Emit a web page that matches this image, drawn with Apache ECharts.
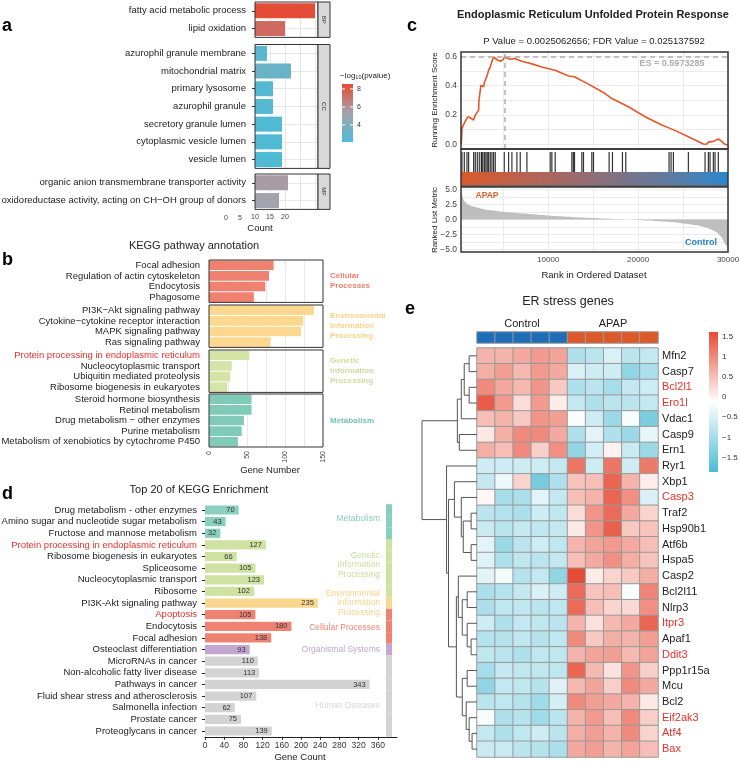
<!DOCTYPE html>
<html>
<head>
<meta charset="utf-8">
<script src="https://cdn.jsdelivr.net/npm/echarts@6/dist/echarts.min.js"></script>
<style>
html, body { margin: 0; padding: 0; background: #fff; }
#main { width: 740px; height: 762px; }
</style>
</head>
<body>
<div id="main"></div>
<script>
// ---- a: GO enrichment ----
const goBpTerms = ['fatty acid metabolic process', 'lipid oxidation'];
const goBpCounts = [30, 20];
const goBpLogP = [8.5, 7.4];
const goCcTerms = ['azurophil granule membrane', 'mitochondrial matrix', 'primary lysosome', 'azurophil granule', 'secretory granule lumen', 'cytoplasmic vesicle lumen', 'vesicle lumen'];
const goCcCounts = [14, 22, 16, 16, 19, 19, 19];
const goCcLogP = [2.6, 3.2, 2.4, 2.4, 2.25, 2.2, 2.15];
const goMfTerms = ['organic anion transmembrane transporter activity', 'oxidoreductase activity, acting on CH\u2212OH group of donors'];
const goMfCounts = [21, 18];
const goMfLogP = [5.6, 5.3];
const aLegendTicks = [8, 6, 4];

// ---- b: KEGG annotation ----
const bCellTerms = ['Focal adhesion', 'Regulation of actin cytoskeleton', 'Endocytosis', 'Phagosome'];
const bCellCounts = [85, 79, 74, 59];
const bEnvTerms = ['PI3K\u2212Akt signaling pathway', 'Cytokine\u2212cytokine receptor interaction', 'MAPK signaling pathway', 'Ras signaling pathway'];
const bEnvCounts = [138, 124, 121, 81];
const bGenTerms = ['Protein processing in endoplasmic reticulum', 'Nucleocytoplasmic transport', 'Ubiquitin mediated proteolysis', 'Ribosome biogenesis in eukaryotes'];
const bGenCounts = [53, 30, 28, 24];
const bMetTerms = ['Steroid hormone biosynthesis', 'Retinol metabolism', 'Drug metabolism \u2212 other enzymes', 'Purine metabolism', 'Metabolism of xenobiotics by cytochrome P450'];
const bMetCounts = [56, 56, 46, 43, 38];

// ---- c: GSEA ----
const esRank = [333, 407, 560, 704, 900, 1074, 1333, 1704, 1889, 2111, 2259, 2300, 2518, 2815, 2900, 3074, 3220, 3370, 3520, 3667, 3800, 3926, 4407, 4700, 5037, 5148, 5500, 5778, 6000, 6260, 7074, 7600, 8185, 9296, 10400, 10777, 12259, 12900, 13000, 14481, 16333, 17074, 18926, 20778, 22630, 23900, 24111, 25593, 26333, 27259, 27450, 27600, 27815, 28000, 28370, 28550, 28926, 29300, 29667, 30000];
const esValue = [0, 0.109, 0.10, 0.149, 0.145, 0.188, 0.181, 0.165, 0.199, 0.21, 0.233, 0.30, 0.403, 0.392, 0.42, 0.448, 0.47, 0.505, 0.52, 0.55, 0.575, 0.593, 0.573, 0.566, 0.58, 0.597, 0.585, 0.58, 0.59, 0.584, 0.566, 0.557, 0.548, 0.527, 0.51, 0.505, 0.466, 0.46, 0.455, 0.41, 0.346, 0.312, 0.256, 0.188, 0.131, 0.10, 0.097, 0.052, 0.029, 0.002, 0.012, 0.0, 0.015, 0.005, 0.02, 0.01, 0.036, 0.02, 0.0, -0.005];
const esMax = 0.5973285;
const esMaxRank = 5148;
const hitRanks = [407, 667, 963, 1148, 1704, 1889, 2111, 2333, 2556, 2630, 2741, 2926, 3074, 3222, 3370, 3556, 3741, 3926, 4111, 5111, 5593, 5963, 6519, 6889, 7630, 10222, 10407, 10778, 12630, 12800, 12926, 13741, 13926, 14852, 15037, 16777, 17148, 18259, 18630, 23444, 23667, 23926, 25593, 27444, 27815, 28000, 28370, 28556, 28926];
const metricRank = [333, 593, 963, 1704, 2815, 4296, 6148, 8000, 9852, 11704, 13556, 15407, 17259, 19111, 20963, 22815, 24667, 26519, 27630, 28741, 29296, 29667, 30000];
const metricValue = [4.8, 3.27, 2.59, 2.14, 1.69, 1.41, 1.12, 0.9, 0.67, 0.5, 0.33, 0.22, 0.1, 0, -0.17, -0.34, -0.57, -0.96, -1.36, -2.1, -2.94, -4.07, -4.6];

// ---- d: Top 20 KEGG ----
const dTerms = ['Drug metabolism - other enzymes', 'Amino sugar and nucleotide sugar metabolism', 'Fructose and mannose metabolism', 'Protein processing in endoplasmic reticulum', 'Ribosome biogenesis in eukaryotes', 'Spliceosome', 'Nucleocytoplasmic transport', 'Ribosome', 'PI3K-Akt signaling pathway', 'Apoptosis', 'Endocytosis', 'Focal adhesion', 'Osteoclast differentiation', 'MicroRNAs in cancer', 'Non-alcoholic fatty liver disease', 'Pathways in cancer', 'Fluid shear stress and atherosclerosis', 'Salmonella infection', 'Prostate cancer', 'Proteoglycans in cancer'];
const dCounts = [70, 43, 32, 127, 66, 105, 123, 102, 235, 105, 180, 138, 93, 110, 113, 343, 107, 62, 75, 139];
const dClasses = ['Metabolism', 'Metabolism', 'Metabolism', 'Genetic', 'Genetic', 'Genetic', 'Genetic', 'Genetic', 'Environmental', 'Cellular', 'Cellular', 'Cellular', 'Organismal', 'Human', 'Human', 'Human', 'Human', 'Human', 'Human', 'Human'];
const dRedTerms = ['Protein processing in endoplasmic reticulum', 'Apoptosis'];
const dTicks = [0, 40, 80, 120, 160, 200, 240, 280, 320, 360];

// ---- e: ER stress heatmap ----
const eSamples = ['C1', 'C2', 'C3', 'C4', 'C5', 'A1', 'A2', 'A3', 'A4', 'A5'];
const eGroups = [0, 0, 0, 0, 0, 1, 1, 1, 1, 1];
const eGenes = ['Mfn2', 'Casp7', 'Bcl2l1', 'Ero1l', 'Vdac1', 'Casp9', 'Ern1', 'Ryr1', 'Xbp1', 'Casp3', 'Traf2', 'Hsp90b1', 'Atf6b', 'Hspa5', 'Casp2', 'Bcl2l11', 'Nlrp3', 'Itpr3', 'Apaf1', 'Ddit3', 'Ppp1r15a', 'Mcu', 'Bcl2', 'Eif2ak3', 'Atf4', 'Bax'];
const eRedGenes = ['Bcl2l1', 'Ero1l', 'Casp3', 'Itpr3', 'Ddit3', 'Eif2ak3', 'Atf4', 'Bax'];
const eValues = [
    [0.6, 0.6, 0.7, 0.85, 0.75, -0.9, -0.8, -0.5, -0.8, -0.7],
    [0.65, 0.8, 0.55, 0.85, 0.7, -0.5, -0.6, -0.6, -1.2, -0.95],
    [1.0, 0.7, 0.55, 0.9, 0.4, -0.9, -0.8, -1.0, -0.7, -0.6],
    [1.45, 0.85, 0.2, 0.85, 0.05, -0.7, -0.9, -0.8, -0.8, -0.7],
    [0.5, 0.6, 0.4, 0.9, 0.8, -0.15, -0.6, -1.1, -0.2, -1.4],
    [0.1, 0.65, 1.0, 1.0, 0.7, -0.9, -0.4, -0.9, -1.1, -0.35],
    [0.65, 0.5, 1.0, 0.35, 0.95, -1.2, -0.55, 0.0, -0.65, -1.1],
    [-0.6, -0.6, -0.6, -0.6, -0.7, 1.2, -0.6, 1.2, -0.6, 1.15],
    [-0.7, -0.3, 0.3, -1.45, -0.9, 0.45, 0.5, 1.35, 0.6, 0.05],
    [-0.05, -1.0, -0.95, -0.4, -0.7, 0.5, 0.6, 1.35, 0.95, -0.5],
    [-0.8, -0.85, -0.95, -0.6, -0.75, 0.2, 0.9, 1.3, 0.7, 0.3],
    [-0.65, -0.8, -0.7, -0.75, -0.7, 0.1, 0.9, 1.4, 0.4, 0.45],
    [-0.4, -1.1, -0.8, -0.6, -0.75, 0.6, 0.75, 0.85, 0.7, 0.5],
    [-0.45, -0.9, -0.75, -0.8, -0.7, 0.5, 0.7, 0.95, 0.65, 0.45],
    [-0.4, -0.25, -0.85, -0.7, -1.2, 1.6, 0.05, 0.3, 0.4, 0.65],
    [-0.95, -0.85, -0.7, -0.5, -0.6, 1.3, 0.45, 0.5, -0.2, 1.05],
    [-0.95, -0.75, -0.75, -0.8, -0.75, 1.3, 0.5, 0.3, 0.25, 0.95],
    [-0.6, -0.9, -0.7, -0.75, -0.8, 0.6, 0.15, 0.55, 0.7, 1.35],
    [-0.85, -0.85, -0.75, -0.85, -0.75, 1.0, 0.4, 0.65, 0.6, 0.8],
    [-0.75, -0.8, -0.9, -0.75, -0.75, 0.6, 0.75, 0.8, 0.55, 0.75],
    [-1.0, -0.7, -0.75, -0.75, -0.75, 1.35, 0.55, 0.15, 0.9, 0.35],
    [-1.2, -0.7, -0.75, -0.85, -0.45, 0.55, 0.75, 0.35, 1.0, 0.7],
    [-0.8, -0.75, -0.85, -1.05, -0.55, 1.0, 0.8, 0.7, 0.6, 0.1],
    [-0.2, -0.9, -0.85, -1.05, -0.8, 0.6, 0.85, 0.5, 1.0, 0.35],
    [-0.7, -0.9, -0.75, -0.6, -0.8, 0.65, 0.8, 0.6, 1.0, 0.3],
    [-0.65, -0.65, -0.8, -0.85, -0.95, 0.7, 0.8, 0.6, 0.75, 0.5]
];
// dendrogram merges: [left node, right node, height]; leaves are rows 0..25, merges numbered from 26
const eMerges = [
    [0, 1, 0.8], [2, 3, 0.8], [26, 27, 1.3], [28, 4, 1.6], [5, 6, 1.8], [29, 30, 2.0],
    [10, 11, 0.6], [12, 13, 0.6], [32, 33, 1.4], [9, 34, 1.6], [8, 35, 2.3],
    [15, 16, 1.0], [18, 19, 0.6], [17, 38, 1.0], [37, 39, 1.5], [14, 40, 1.9],
    [20, 21, 1.0], [24, 25, 0.5], [23, 43, 0.8], [22, 44, 1.1], [42, 45, 1.5], [41, 46, 2.1],
    [36, 47, 2.9], [7, 48, 3.1], [31, 49, 5.6]
];
const eLegendTicks = [1.5, 1, 0.5, 0, -0.5, -1, -1.5];

const FONT = '"Liberation Sans", Arial, Helvetica, sans-serif';
const MINUS = '\u2212';

const grid = [], xAxis = [], yAxis = [], series = [], graphic = [];

function addGrid(left, top, width, height) {
    grid.push({ left: left, top: top, width: width, height: height, containLabel: false, outerBoundsMode: 'none' });
    return grid.length - 1;
}
function text(x, y, str, o) {
    o = o || {};
    graphic.push({
        type: 'text', x: x, y: y, rotation: o.rotation || 0, silent: true, z: 100,
        style: {
            text: str, fill: o.color || '#222', fontSize: o.size || 9, fontWeight: o.weight || 'normal',
            fontFamily: FONT, align: o.align || 'center', verticalAlign: o.valign || 'middle',
            lineHeight: o.lineHeight, rich: o.rich
        }
    });
}
function box(x, y, w, h, o) {
    o = o || {};
    graphic.push({
        type: 'rect', shape: { x: x, y: y, width: w, height: h }, silent: true, z: o.z || 100,
        style: { fill: o.fill || 'none', stroke: o.stroke || '#333', lineWidth: o.lineWidth || 1 }
    });
}
function hiddenAxis(gi, extra) {
    return Object.assign({ gridIndex: gi, axisLine: { show: false }, axisTick: { show: false }, axisLabel: { show: false }, splitLine: { show: false } }, extra);
}

// ================= a =================
const A_ROW = 17.7;
const aFacets = [
    { terms: goBpTerms, counts: goBpCounts, logp: goBpLogP, top: 2, strip: 'BP' },
    { terms: goCcTerms, counts: goCcCounts, logp: goCcLogP, top: 44.5, strip: 'CC' },
    { terms: goMfTerms, counts: goMfCounts, logp: goMfLogP, top: 174, strip: 'MF' }
];
const aSeriesIdx = [];
aFacets.forEach(function (f, k) {
    const h = f.terms.length * A_ROW;
    const gi = addGrid(255, f.top, 63, h);
    const xi = xAxis.push({
        type: 'value', gridIndex: gi, min: 10, max: 31,
        axisLine: { show: false },
        axisTick: { show: false, customValues: [10, 15, 20, 25, 30] },
        splitLine: { show: true, lineStyle: { color: '#e6e6e6' } },
        axisLabel: { show: k === 2, customValues: [10, 15, 20], fontSize: 7, color: '#444', margin: 4, fontFamily: FONT }
    }) - 1;
    const yi = yAxis.push({
        type: 'category', gridIndex: gi, data: f.terms, inverse: true,
        axisLine: { show: false },
        axisTick: { show: true, length: 3, alignWithLabel: true, lineStyle: { color: '#333' } },
        axisLabel: { fontSize: 9.5, color: '#222', margin: 9, interval: 0, fontFamily: FONT },
        splitLine: { show: false }
    }) - 1;
    // horizontal grid lines through category centres
    yAxis.push(hiddenAxis(gi, {
        type: 'value', min: 0, max: f.terms.length,
        axisTick: { show: false, customValues: f.terms.map(function (t, i) { return i + 0.5; }) },
        splitLine: { show: true, lineStyle: { color: '#e6e6e6' } }
    }));
    aSeriesIdx.push(series.push({
        type: 'bar', xAxisIndex: xi, yAxisIndex: yi, barWidth: 15, z: 3, silent: true,
        encode: { x: 0, y: 1 },
        data: f.terms.map(function (t, i) { return [f.counts[i], t, f.logp[i]]; })
    }) - 1);
    box(255, f.top, 63, h);
    box(318, f.top, 12, h, { fill: '#d9d9d9' });
    text(324, f.top + h / 2, f.strip, { size: 6, color: '#333', rotation: -Math.PI / 2 });
});
text(226, 218, '0', { size: 7, color: '#444' });
text(240, 218, '5', { size: 7, color: '#444' });
text(260, 228, 'Count', { size: 9.5 });
// legend
text(340, 76, MINUS + 'log{sub|10}(pvalue)', { size: 8, align: 'left', rich: { sub: { fontSize: 5.5, fontFamily: FONT, fill: '#222', verticalAlign: 'bottom', padding: [3, 0, 0, 0] } } });
graphic.push({
    type: 'rect', shape: { x: 342, y: 84, width: 11, height: 58 }, silent: true, z: 100,
    style: {
        fill: new echarts.graphic.LinearGradient(0, 0, 0, 1, [
            { offset: 0, color: '#E64B35' }, { offset: 0.5, color: '#A3A3AC' }, { offset: 1, color: '#4DBBD5' }
        ])
    }
});
aLegendTicks.forEach(function (v) {
    const y = 84 + (8.55 - v) * 9;
    graphic.push({ type: 'line', shape: { x1: 342, y1: y, x2: 345, y2: y }, style: { stroke: '#fff', lineWidth: 1 }, z: 101, silent: true });
    graphic.push({ type: 'line', shape: { x1: 350, y1: y, x2: 353, y2: y }, style: { stroke: '#fff', lineWidth: 1 }, z: 101, silent: true });
    text(357, y, String(v), { size: 7, align: 'left', color: '#333' });
});

// ================= b =================
const B_ROW = 10.6;
const bFacets = [
    { terms: bCellTerms, counts: bCellCounts, top: 260, color: '#F0806F', label: 'Cellular\nProcesses', labelColor: '#F07E6E' },
    { terms: bEnvTerms, counts: bEnvCounts, top: 305, color: '#FBD78F', label: 'Environmental\nInformation\nProcessing', labelColor: '#F8D386' },
    { terms: bGenTerms, counts: bGenCounts, top: 350, color: '#D4E3A6', label: 'Genetic\nInformation\nProcessing', labelColor: '#CBDF9C' },
    { terms: bMetTerms, counts: bMetCounts, top: 394, color: '#80CBB8', label: 'Metabolism', labelColor: '#70C5B1' }
];
bFacets.forEach(function (f, k) {
    const h = f.terms.length * B_ROW;
    const last = k === bFacets.length - 1;
    const gi = addGrid(209, f.top, 114, h);
    const xi = xAxis.push({
        type: 'value', gridIndex: gi, min: 0, max: 150,
        axisLine: { show: false },
        axisTick: { show: false, customValues: [25, 50, 75, 100, 125] },
        splitLine: { show: true, lineStyle: { color: '#e8e8e8' } },
        axisLabel: { show: last, customValues: [0, 50, 100, 150], rotate: 90, fontSize: 7, color: '#444', margin: 4, fontFamily: FONT }
    }) - 1;
    const yi = yAxis.push({
        type: 'category', gridIndex: gi, data: f.terms, inverse: true,
        axisLine: { show: false }, axisTick: { show: false }, splitLine: { show: false },
        axisLabel: {
            fontSize: 9.5, margin: 9, interval: 0, fontFamily: FONT,
            color: function (v) { return v === 'Protein processing in endoplasmic reticulum' ? '#E8302A' : '#222'; }
        }
    }) - 1;
    series.push({
        type: 'bar', xAxisIndex: xi, yAxisIndex: yi, barWidth: 9.6, silent: true,
        itemStyle: { color: f.color }, data: f.counts
    });
    box(209, f.top, 114, h);
    text(330, f.top + h / 2, f.label, { size: 8, weight: 'bold', align: 'left', color: f.labelColor, lineHeight: 10 });
});
text(194, 246, 'KEGG pathway annotation', { size: 11 });
text(270, 470, 'Gene Number', { size: 9.5 });

// ================= c =================
const C_LEFT = 461, C_W = 267;
const cTop = addGrid(C_LEFT, 52, C_W, 97);
const cMid = addGrid(C_LEFT, 149, C_W, 37);
const cBot = addGrid(C_LEFT, 187, C_W, 65);
const rankMinor = [5000, 10000, 15000, 20000, 25000, 30000];
const cxTop = xAxis.push(hiddenAxis(cTop, { type: 'value', min: 300, max: 30000, axisTick: { show: false, customValues: rankMinor }, splitLine: { show: true, lineStyle: { color: '#ebebeb' } } })) - 1;
const cyTop = yAxis.push({
    type: 'value', gridIndex: cTop, min: -0.032, max: 0.629,
    axisLine: { show: false },
    axisTick: { show: false, customValues: [0, 0.1, 0.2, 0.3, 0.4, 0.5, 0.6] },
    splitLine: { show: true, lineStyle: { color: '#ebebeb' } },
    axisLabel: { customValues: [0, 0.2, 0.4, 0.6], fontSize: 8.5, color: '#444', margin: 4, fontFamily: FONT, formatter: function (v) { return v.toFixed(1); } }
}) - 1;
const cxMid = xAxis.push(hiddenAxis(cMid, { type: 'value', min: 300, max: 30000 })) - 1;
const cyMid = yAxis.push(hiddenAxis(cMid, { type: 'value', min: 0, max: 1 })) - 1;
const cxBot = xAxis.push({
    type: 'value', gridIndex: cBot, min: 300, max: 30000,
    axisLine: { show: false },
    axisTick: { show: false, customValues: rankMinor },
    splitLine: { show: true, lineStyle: { color: '#ebebeb' } },
    axisLabel: { customValues: [10000, 20000, 30000], fontSize: 8, color: '#444', margin: 4, fontFamily: FONT, formatter: function (v) { return String(v); } }
}) - 1;
const cyBot = yAxis.push({
    type: 'value', gridIndex: cBot, min: -5.4, max: 5.4,
    axisLine: { show: false },
    axisTick: { show: false, customValues: [-5, -3.75, -2.5, -1.25, 0, 1.25, 2.5, 3.75, 5] },
    splitLine: { show: true, lineStyle: { color: '#ebebeb' } },
    axisLabel: { customValues: [-5, -2.5, 0, 2.5, 5], fontSize: 8.5, color: '#444', margin: 4, fontFamily: FONT, formatter: function (v) { return v.toFixed(1).replace('-', MINUS); } }
}) - 1;
series.push({
    type: 'line', xAxisIndex: cxTop, yAxisIndex: cyTop, showSymbol: false, silent: true, z: 4,
    lineStyle: { color: '#E4572A', width: 1.6 },
    data: esRank.map(function (r, i) { return [r, esValue[i]]; }),
    markLine: {
        silent: true, symbol: 'none', label: { show: false },
        lineStyle: { color: '#b0b0b0', width: 1.5, type: [5, 4] },
        data: [{ yAxis: esMax }, { xAxis: esMaxRank }]
    }
});
series.push({
    type: 'scatter', xAxisIndex: cxMid, yAxisIndex: cyMid, silent: true,
    symbol: 'rect', symbolSize: [1.2, 20], itemStyle: { color: '#000' },
    data: hitRanks.map(function (r) { return [r, 0.649]; }),
    markArea: {
        silent: true,
        itemStyle: {
            color: new echarts.graphic.LinearGradient(0, 0, 1, 0, [
                { offset: 0, color: '#DA582B' }, { offset: 0.3, color: '#B0645A' },
                { offset: 0.55, color: '#86707F' }, { offset: 0.8, color: '#5A7CA4' }, { offset: 1, color: '#2A87CF' }
            ])
        },
        data: [[{ xAxis: 300, yAxis: 0.027 }, { xAxis: 30000, yAxis: 0.378 }]]
    }
});
series.push({
    type: 'line', xAxisIndex: cxBot, yAxisIndex: cyBot, showSymbol: false, silent: true, smooth: 0.2,
    lineStyle: { width: 0 }, areaStyle: { color: '#BEBEBE', opacity: 1 },
    data: metricRank.map(function (r, i) { return [r, metricValue[i]]; })
});
box(C_LEFT, 52, C_W, 97, { lineWidth: 1.5 });
box(C_LEFT, 149, C_W, 37, { lineWidth: 1.5 });
box(C_LEFT, 187, C_W, 65, { lineWidth: 1.5 });
text(593, 15, 'Endoplasmic Reticulum Unfolded Protein Response', { size: 11, weight: 'bold' });
text(594, 41, 'P Value = 0.0025062656; FDR Value = 0.025137592', { size: 9.5 });
text(672, 64, 'ES = 0.5973285', { size: 9, weight: 'bold', color: '#ababab' });
text(487, 196, 'APAP', { size: 8.5, weight: 'bold', color: '#E0602E' });
text(701, 243, 'Control', { size: 9, weight: 'bold', color: '#2A7FC7' });
text(435, 100, 'Running Enrichment Score', { size: 8, rotation: Math.PI / 2 });
text(435, 220, 'Ranked List Metric', { size: 8, rotation: Math.PI / 2 });
text(594, 275, 'Rank in Ordered Dataset', { size: 9.5 });

// ================= d =================
const dClassColor = {
    Metabolism: '#88CFBE', Genetic: '#CFE2A1', Environmental: '#F9D78E',
    Cellular: '#EF8373', Organismal: '#C3A6D1', Human: '#D3D3D3'
};
const D_TOP = 504.2, D_H = 232.6;
const dGrid = addGrid(205, D_TOP, 192, D_H);
const dx = xAxis.push({
    type: 'value', gridIndex: dGrid, min: 0, max: 400,
    axisLine: { show: true, lineStyle: { color: '#222', width: 1 } },
    axisTick: { show: true, length: 3, customValues: dTicks, lineStyle: { color: '#222' } },
    axisLabel: { customValues: dTicks, fontSize: 8.5, color: '#333', margin: 4, fontFamily: FONT },
    splitLine: { show: false }
}) - 1;
const dy = yAxis.push({
    type: 'category', gridIndex: dGrid, data: dTerms, inverse: true,
    axisLine: { show: false },
    axisTick: { show: true, length: 3, alignWithLabel: true, lineStyle: { color: '#222' } },
    axisLabel: {
        fontSize: 9.5, margin: 8, interval: 0, fontFamily: FONT,
        color: function (v) { return dRedTerms.indexOf(v) >= 0 ? '#E8302A' : '#222'; }
    }
}) - 1;
series.push({
    type: 'bar', xAxisIndex: dx, yAxisIndex: dy, barWidth: 9.2, silent: true,
    data: dCounts.map(function (v, i) { return { value: v, itemStyle: { color: dClassColor[dClasses[i]] } }; }),
    label: { show: true, position: 'insideRight', distance: 4, fontSize: 7.5, color: '#333', fontFamily: FONT }
});
const dStrip = addGrid(386, D_TOP, 6, D_H);
const dsx = xAxis.push(hiddenAxis(dStrip, { type: 'value', min: 0, max: 1 })) - 1;
const dsy = yAxis.push(hiddenAxis(dStrip, { type: 'category', data: dTerms, inverse: true })) - 1;
series.push({
    type: 'bar', xAxisIndex: dsx, yAxisIndex: dsy, barCategoryGap: 0, silent: true,
    data: dClasses.map(function (c) { return { value: 1, itemStyle: { color: dClassColor[c] } }; })
});
text(199, 490, 'Top 20 of KEGG Enrichment', { size: 11 });
text(300, 757, 'Gene Count', { size: 9.5 });
text(380, 519, 'Metabolism', { size: 8.5, align: 'right', color: dClassColor.Metabolism });
text(380, 565, 'Genetic\nInformation\nProcessing', { size: 8.5, align: 'right', color: '#C9DE98', lineHeight: 9.4 });
text(380, 603, 'Environmental\nInformation\nProcessing', { size: 8.5, align: 'right', color: '#F8D486', lineHeight: 9.4 });
text(380, 628, 'Cellular Processes', { size: 8.5, align: 'right', color: dClassColor.Cellular });
text(380, 650, 'Organismal Systems', { size: 8.5, align: 'right', color: dClassColor.Organismal });
text(380, 706, 'Human Diseases', { size: 8.5, align: 'right', color: '#D6D6D6' });

// ================= e =================
const E_LEFT = 477, E_W = 181, E_TOP = 348, E_H = 409;
const eAnno = addGrid(E_LEFT, 332, E_W, 11);
const eax = xAxis.push(hiddenAxis(eAnno, { type: 'category', data: eSamples })) - 1;
const eay = yAxis.push(hiddenAxis(eAnno, { type: 'category', data: ['group'] })) - 1;
const eAnnoSeries = series.push({
    type: 'heatmap', xAxisIndex: eax, yAxisIndex: eay, silent: true,
    itemStyle: { borderColor: '#9a9a9a', borderWidth: 1 },
    data: eGroups.map(function (g, i) { return [i, 0, g]; })
}) - 1;
const eHeat = addGrid(E_LEFT, E_TOP, E_W, E_H);
const ehx = xAxis.push(hiddenAxis(eHeat, { type: 'category', data: eSamples })) - 1;
const ehy = yAxis.push({
    type: 'category', gridIndex: eHeat, data: eGenes, inverse: true, position: 'right',
    axisLine: { show: false }, axisTick: { show: false }, splitLine: { show: false },
    axisLabel: {
        fontSize: 11, margin: 4, interval: 0, fontFamily: FONT, align: 'left',
        color: function (v) { return eRedGenes.indexOf(v) >= 0 ? '#E8302A' : '#222'; }
    }
}) - 1;
const heatData = [];
eValues.forEach(function (row, r) { row.forEach(function (v, c) { heatData.push([c, r, v]); }); });
const eHeatSeries = series.push({
    type: 'heatmap', xAxisIndex: ehx, yAxisIndex: ehy, silent: true,
    itemStyle: { borderColor: '#9a9a9a', borderWidth: 1 },
    data: heatData
}) - 1;
// dendrogram from merge table
const nodeY = eGenes.map(function (g, i) { return i; });
const nodeH = eGenes.map(function () { return 0; });
const dendroLines = [];
eMerges.forEach(function (m) {
    const a = m[0], b = m[1], h = m[2];
    dendroLines.push({ coords: [[nodeH[a], nodeY[a]], [h, nodeY[a]], [h, nodeY[b]], [nodeH[b], nodeY[b]]] });
    nodeY.push((nodeY[a] + nodeY[b]) / 2);
    nodeH.push(h);
});
const eDen = addGrid(422, E_TOP, E_LEFT - 422, E_H);
const edx = xAxis.push(hiddenAxis(eDen, { type: 'value', min: 0, max: 5.6, inverse: true })) - 1;
const edy = yAxis.push(hiddenAxis(eDen, { type: 'value', min: -0.5, max: eGenes.length - 0.5, inverse: true })) - 1;
series.push({
    type: 'lines', coordinateSystem: 'cartesian2d', xAxisIndex: edx, yAxisIndex: edy, polyline: true, silent: true,
    lineStyle: { color: '#555', width: 1, opacity: 1 }, data: dendroLines
});
text(568, 302, 'ER stress genes', { size: 12.5 });
text(522, 324, 'Control', { size: 11 });
text(613, 324, 'APAP', { size: 11 });
const E_VMAX = 1.61, E_VMIN = -1.86;
graphic.push({
    type: 'rect', shape: { x: 709, y: 332, width: 9, height: 140 }, silent: true, z: 100,
    style: {
        fill: new echarts.graphic.LinearGradient(0, 0, 0, 1, [
            { offset: 0, color: '#E64B35' }, { offset: 0.5, color: '#FFFFFF' }, { offset: 1, color: '#4DBBD5' }
        ])
    }
});
eLegendTicks.forEach(function (v) {
    const y = 332 + (E_VMAX - v) / (E_VMAX - E_VMIN) * 140;
    text(722, y, String(v).replace('-', MINUS), { size: 8, align: 'left', color: '#333' });
});

// panel letters
text(2, 17, 'a', { size: 18, weight: 'bold', align: 'left', valign: 'alphabetic', color: '#000' });
text(2, 251, 'b', { size: 18, weight: 'bold', align: 'left', valign: 'alphabetic', color: '#000' });
text(407, 17, 'c', { size: 18, weight: 'bold', align: 'left', valign: 'alphabetic', color: '#000' });
text(2, 485, 'd', { size: 18, weight: 'bold', align: 'left', valign: 'alphabetic', color: '#000' });
text(405, 300, 'e', { size: 18, weight: 'bold', align: 'left', valign: 'alphabetic', color: '#000' });

const chart = echarts.init(document.getElementById('main'));
chart.setOption({
    animation: false,
    backgroundColor: '#fff',
    textStyle: { fontFamily: FONT },
    grid: grid,
    xAxis: xAxis,
    yAxis: yAxis,
    visualMap: [
        { type: 'continuous', show: false, seriesIndex: aSeriesIdx, dimension: 2, min: 2.1, max: 8.55, inRange: { color: ['#4DBBD5', '#A3A3AC', '#E64B35'] } },
        { type: 'continuous', show: false, seriesIndex: eHeatSeries, dimension: 2, min: E_VMIN, max: E_VMAX, inRange: { color: ['#4DBBD5', '#FFFFFF', '#E64B35'] } },
        { type: 'piecewise', show: false, seriesIndex: eAnnoSeries, dimension: 2, pieces: [{ value: 0, color: '#1F6DB7' }, { value: 1, color: '#DC5A29' }] }
    ],
    series: series,
    graphic: graphic
});
</script>
</body>
</html>
